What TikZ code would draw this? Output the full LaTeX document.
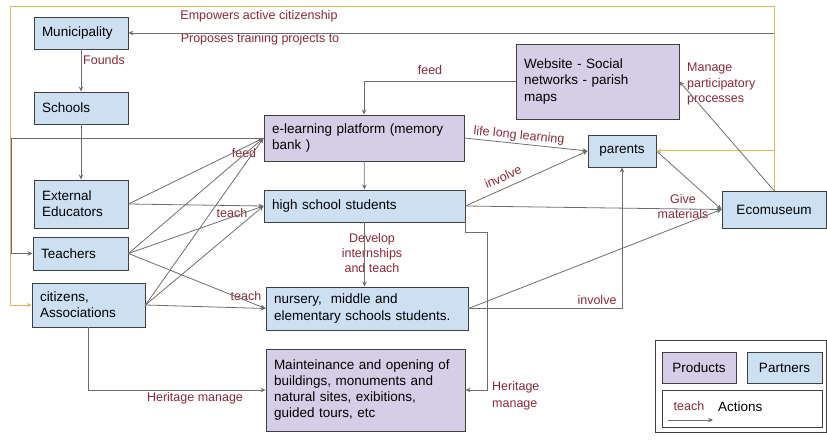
\documentclass[tikz,border=0pt]{standalone}
\usepackage{fontspec}
\setmainfont{Liberation Sans}
\usetikzlibrary{arrows.meta}
\definecolor{partnerblue}{RGB}{204,224,242}
\definecolor{productlilac}{RGB}{214,206,230}
\definecolor{boxline}{RGB}{64,64,64}
\definecolor{linegray}{RGB}{110,110,110}
\definecolor{actionred}{RGB}{140,40,55}
\definecolor{civicorange}{RGB}{228,182,96}
\begin{document}
\begin{tikzpicture}[
	x=1pt,y=-1pt,
	box/.style={draw=boxline,line width=0.9pt,inner xsep=8pt,inner ysep=0pt,align=left,font=\fontsize{13.5}{16.2}\selectfont},
	partner/.style={box,fill=partnerblue},
	product/.style={box,fill=productlilac},
	act/.style={text=actionred,inner sep=0pt,font=\fontsize{12.5}{15}\selectfont},
	conn/.style={draw=linegray,line width=0.8pt,-{Stealth[length=5pt,width=4.5pt]}},
	civic/.style={draw=civicorange,line width=1pt,-{Stealth[length=5pt,width=4.5pt]}}
	]
	\useasboundingbox (0,0) rectangle (827,446);
	\node[partner,text width=78pt,minimum height=32pt]  (muni) at (81,33)  {Municipality};
	\node[partner,text width=78pt,minimum height=32pt]  (schools) at (81,108)  {Schools};
	\node[partner,text width=78pt,minimum height=48pt]  (exted) at (81,204)  {External\\Educators};
	\node[partner,text width=79pt,minimum height=33pt]  (teachers) at (80.5,253.5)  {Teachers};
	\node[partner,text width=97pt,minimum height=44pt]  (citizens) at (88.5,305)  {citizens,\\Associations};
	\node[product,text width=184pt,minimum height=46pt]  (elearn) at (364,138)  {e-learning platform (memory\\bank )};
	\node[partner,text width=185pt,minimum height=32pt]  (highs) at (364.5,206)  {high school students};
	\node[partner,text width=186pt,minimum height=43pt]  (nursery) at (367,308.5)  {nursery,\ \ middle and\\elementary schools students.};
	\node[product,text width=183pt,minimum height=82pt]  (maint) at (365.5,390)  {Mainteinance and opening of\\buildings, monuments and\\natural sites, exibitions,\\guided tours, etc};
	\node[product,text width=147pt,minimum height=75pt]  (website) at (597.5,81.5)  {Website - Social\\networks - parish\\maps};
	\node[partner,align=center,minimum width=68pt,minimum height=32pt]  (parents) at (622,151)  {parents};
	\node[partner,align=center,minimum width=104pt,minimum height=37pt]  (ecomus) at (774,209.5)  {Ecomuseum};
	\node[draw=boxline,line width=0.9pt,fill=white,minimum width=171pt,minimum height=92pt,inner sep=0pt]  (legend) at (740.5,386)  {};
	\node[product,align=center,minimum width=74pt,minimum height=31pt]  (productsKey) at (699,367.5)  {Products};
	\node[partner,align=center,minimum width=75pt,minimum height=31pt]  (partnersKey) at (784.5,367.5)  {Partners};
	\node[box,fill=white,minimum width=160pt,minimum height=37pt]  (actionsKey) at (742,408.5)  {};
	\node[act]  (teachKey) at (689,406)  {teach};
	\node[anchor=west,inner sep=0pt,font=\fontsize{13.5}{16.2}\selectfont]  (actionsText) at (718,407)  {Actions};
	\coordinate  (keyFrom) at (668,420);
	\coordinate  (keyTo) at (713,420);
	\coordinate  (civicCorner) at (10,7);
	\coordinate  (loopCorner) at (11,138);
	\coordinate  (heritageBend) at (487,232);
	\node[act]  (empowers) at (259,16)  {Empowers active citizenship};
	\node[act]  (proposes) at (260,39)  {Proposes training projects to};
	\node[act,anchor=west]  (founds) at (83,60)  {Founds};
	\node[act]  (feedTop) at (430,70)  {feed};
	\node[act,align=left,anchor=west,font=\fontsize{12.5}{15.5}\selectfont]  (manage) at (687,84)  {Manage\\participatory\\processes};
	\node[act,rotate=-5.5]  (lifelong) at (519,136)  {life long learning};
	\node[act]  (feedLeft) at (244,153)  {feed};
	\node[act]  (teachHigh) at (232,213)  {teach};
	\node[act]  (teachNursery) at (246,296)  {teach};
	\node[act,align=center]  (develop) at (372,253)  {Develop\\internships\\and teach};
	\node[act,rotate=24]  (involveHigh) at (503,177)  {involve};
	\node[act,align=center]  (give) at (683,207)  {Give\\materials};
	\node[act]  (involveNursery) at (597,300)  {involve};
	\node[act,align=left,anchor=west,font=\fontsize{12.5}{16.5}\selectfont]  (heritageRight) at (492,396)  {Heritage\\manage};
	\node[act]  (heritageLeft) at (195,398)  {Heritage manage};
	\path[conn]  (ecomus.north) |- (muni.east);
	\path[civic]  (ecomus.north) |- (civicCorner) |- (citizens.west);
	\path[civic]  (ecomus.north |- parents.east) -- (parents.east);
	\path[conn]  (muni) -- (schools);
	\path[conn]  (schools) -- (exted);
	\path[conn]  (elearn.west) -- (loopCorner) |- (teachers.west);
	\path[conn]  (exted.east) -- (elearn.west);
	\path[conn]  (teachers.east) -- (elearn.west);
	\path[conn]  (citizens.east) -- (elearn.west);
	\path[conn]  (exted.east) -- (highs.west);
	\path[conn]  (teachers.east) -- (highs.west);
	\path[conn]  (citizens.east) -- (highs.west);
	\path[conn]  (teachers.east) -- (nursery.west);
	\path[conn]  (citizens.east) -- (nursery.west);
	\path[conn]  (elearn) -- (highs);
	\path[conn]  (highs.south) -- (highs.south |- nursery.north);
	\path[conn]  (website.west) -| (elearn.north);
	\path[conn]  (elearn.east) -- (parents.west);
	\path[conn]  (highs.east) -- (parents.west);
	\path[conn]  (highs.east) -- (ecomus.west);
	\path[conn]  (nursery.east) -- (ecomus.west);
	\path[conn]  (nursery.east) -| (parents.south);
	\path[conn]  (parents.east) -- (ecomus.west);
	\path[conn]  (ecomus.north) -- (website.east);
	\path[conn]  (highs.south east) |- (heritageBend) |- (maint.east);
	\path[conn]  (citizens.south) |- (maint.west);
	\path[conn]  (keyFrom) -- (keyTo);
\end{tikzpicture}
\end{document}
